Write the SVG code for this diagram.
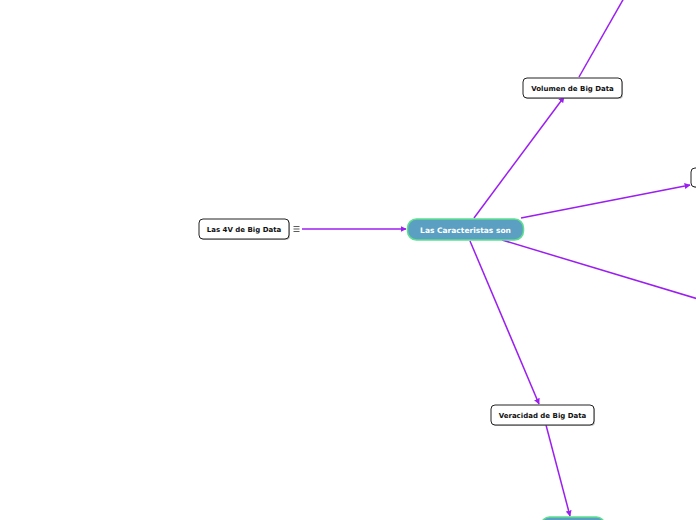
<svg xmlns="http://www.w3.org/2000/svg" width="696" height="520" viewBox="0 0 696 520">
<style>
.conn{stroke:#9b1ff0;stroke-width:1.5;fill:none}
.box{fill:#fff;stroke:#222;stroke-width:1}
.shadow{fill:#888;opacity:0.5}
.lbl{font-family:"DejaVu Sans",Verdana,sans-serif;font-weight:bold;font-size:7px;fill:#111;text-anchor:middle}
.main{fill:#5b9fc2;stroke:#5ee08f;stroke-width:1.5}
.mlbl{font-family:"DejaVu Sans",Verdana,sans-serif;font-weight:bold;font-size:7.5px;fill:#fff;text-anchor:middle}
</style>
<defs>
<marker id="arr" viewBox="0 0 10 10" refX="9" refY="5" markerWidth="6" markerHeight="6" markerUnits="userSpaceOnUse" orient="auto">
<path d="M0,0 L10,5 L0,10 z" fill="#9b1ff0"/>
</marker>
</defs>
<rect width="696" height="520" fill="#fff"/>
<g id="connectors">
<line class="conn" x1="302" y1="229" x2="406" y2="229" marker-end="url(#arr)"/>
<line class="conn" x1="474" y1="218" x2="564" y2="97" marker-end="url(#arr)"/>
<line class="conn" x1="579" y1="77" x2="624" y2="-2"/>
<line class="conn" x1="521" y1="218" x2="690" y2="185" marker-end="url(#arr)"/>
<line class="conn" x1="502" y1="240" x2="698" y2="299"/>
<line class="conn" x1="470" y1="241" x2="539" y2="404" marker-end="url(#arr)"/>
<line class="conn" x1="546" y1="425" x2="570" y2="516" marker-end="url(#arr)"/>
</g>
<g id="node-4v">
<rect class="shadow" x="200" y="220" width="90" height="20" rx="4"/>
<rect class="box" x="199" y="219" width="90" height="20" rx="4"/>
<text class="lbl" x="244" y="232">Las 4V de Big Data</text>
<g stroke="#333" stroke-width="0.8">
<line x1="293.5" y1="226.5" x2="299.5" y2="226.5"/>
<line x1="293.5" y1="229" x2="299.5" y2="229"/>
<line x1="293.5" y1="231.5" x2="299.5" y2="231.5"/>
</g>
</g>
<g id="node-main">
<rect class="main" x="407.5" y="219" width="116" height="21" rx="9"/>
<text class="mlbl" x="465.5" y="232.5">Las Caracteristas son</text>
</g>
<g id="node-volumen">
<rect class="shadow" x="524" y="79" width="99" height="20" rx="4"/>
<rect class="box" x="523" y="78" width="99" height="20" rx="4"/>
<text class="lbl" x="572.5" y="91">Volumen de Big Data</text>
</g>
<g id="node-right">
<rect class="shadow" x="692" y="169" width="20" height="19" rx="4"/>
<rect class="box" x="691" y="168" width="20" height="19" rx="4"/>
</g>
<g id="node-veracidad">
<rect class="shadow" x="492" y="406" width="103" height="20" rx="4"/>
<rect class="box" x="491" y="405" width="103" height="20" rx="4"/>
<text class="lbl" x="542.5" y="418">Veracidad de Big Data</text>
</g>
<g id="node-bottom">
<rect class="main" x="541.5" y="517" width="63" height="21" rx="8"/>
</g>
</svg>
